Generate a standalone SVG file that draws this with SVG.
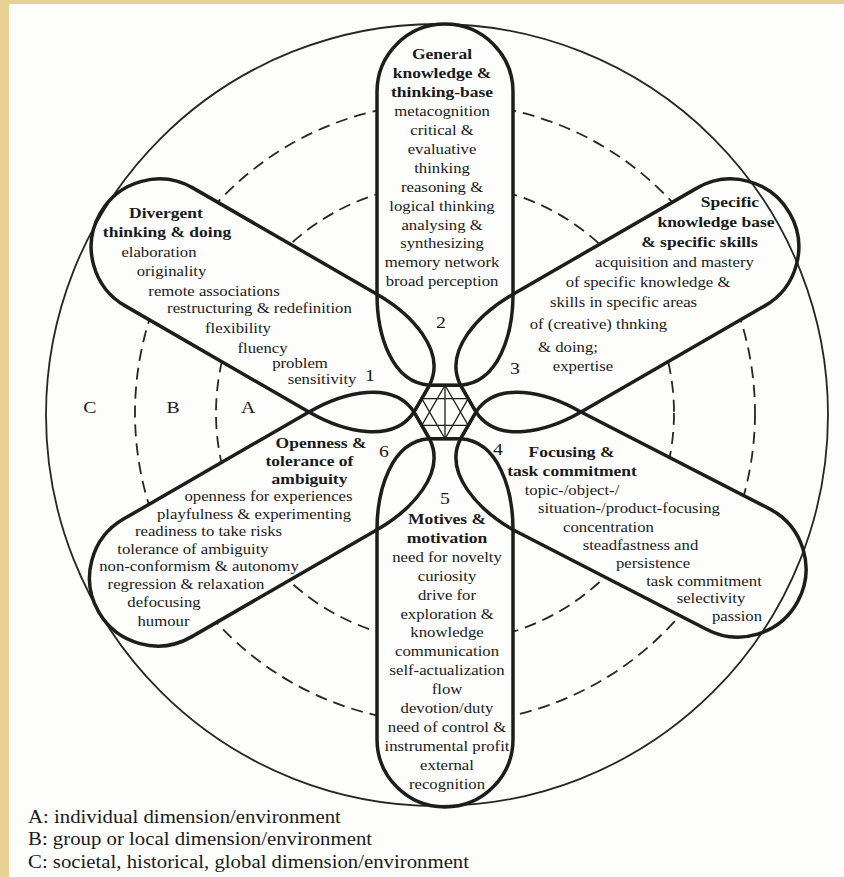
<svg xmlns="http://www.w3.org/2000/svg" width="844" height="877" viewBox="0 0 844 877">
<style>
.pg{fill:#fdfdfc}
.pf{fill:#fdfdfc;stroke:none}
.ps{fill:none;stroke:#1d1d1d;stroke-width:3.5;stroke-linejoin:round}
.ring{fill:none;stroke:#262626;stroke-width:1.8}
.dash{fill:none;stroke:#262626;stroke-width:1.8;stroke-dasharray:12 7}
.hex{fill:none;stroke:#1d1d1d;stroke-width:3}
.star{fill:none;stroke:#1d1d1d;stroke-width:1.3}
text{font-family:"Liberation Serif","Times New Roman",serif;fill:#1a1a1a}
.t{font-size:14.8px;text-anchor:middle}
.b{font-size:15.5px;font-weight:bold;text-anchor:middle}
.n{font-size:17.5px;text-anchor:middle}
.lg{font-size:18.4px}
</style>
<defs>
<path id="p2" d="M377 294.22 L377 92 A68 68 0 0 1 513 92 L513 294.22 C513 334.22 498.71 382.97 460.5 385.15 L429.5 385.15 C391.29 382.97 377 334.22 377 294.22 Z"/>
<path id="p3" d="M513 294.22 L696.79 188.11 A68 68 0 0 1 764.79 305.89 L581 412 C546.36 432 497 444 476 412 L460.5 385.15 C443.29 350.97 478.36 314.22 513 294.22 Z"/>
<path id="p4" d="M581 412 L770.14 509.07 A68 68 0 0 1 705.86 628.93 L513 529.78 C478.36 509.78 443.29 473.03 460.5 438.85 L476 412 C497 380 546.36 392 581 412 Z"/>
<path id="p5" d="M513 529.78 L513 739 A68 68 0 0 1 377 739 L377 529.78 C377 489.78 391.29 441.03 429.5 438.85 L460.5 438.85 C498.71 441.03 513 489.78 513 529.78 Z"/>
<path id="p6" d="M377 529.78 L191.48 636.89 A68 68 0 0 1 123.48 519.11 L309 412 C343.64 392 393 380 414 412 L429.5 438.85 C446.71 473.03 411.64 509.78 377 529.78 Z"/>
<path id="p1" d="M309 412 L125.21 305.89 A68 68 0 0 1 193.21 188.11 L377 294.22 C411.64 314.22 446.71 350.97 429.5 385.15 L414 412 C393 444 343.64 432 309 412 Z"/>
</defs>
<rect x="0" y="0" width="844" height="877" fill="#e9d195"/>
<rect class="pg" x="9" y="4" width="835" height="873"/>
<g id="rings">
<circle class="dash" cx="445" cy="413" r="310"/>
<circle class="dash" cx="445" cy="413" r="229"/>
</g>
<g id="petal-fills">
<use href="#p1" class="pf"/><use href="#p2" class="pf"/><use href="#p3" class="pf"/>
<use href="#p4" class="pf"/><use href="#p5" class="pf"/><use href="#p6" class="pf"/>
</g>
<circle id="outer-ring" class="ring" cx="437" cy="415" r="391"/>
<g id="zone-labels">
<g transform="scale(1.13 1)">
<text class="n" x="79.6" y="413">C</text>
<text class="n" x="153.1" y="413">B</text>
<text class="n" x="219.5" y="413">A</text>
</g>
</g>
<g id="connectors">
<polygon class="hex" points="476,412 460.5,385.15 429.5,385.15 414,412 429.5,438.85 460.5,438.85"/>
<g class="star">
<polygon points="445,385.2 421.8,425.4 468.2,425.4"/>
<polygon points="421.8,398.6 468.2,398.6 445,438.8"/>
<line x1="445" y1="385.2" x2="445" y2="438.8"/>
</g>
</g>
<g id="node1">
<use href="#p1" class="ps"/>
<g transform="scale(1.13 1)">
<text class="b" x="146.9" y="218">Divergent</text>
<text class="b" x="147.8" y="237">thinking &amp; doing</text>
<text class="t" x="140.7" y="257">elaboration</text>
<text class="t" x="151.8" y="276">originality</text>
<text class="t" x="189.4" y="296">remote associations</text>
<text class="t" x="229.6" y="313">restructuring &amp; redefinition</text>
<text class="t" x="210.6" y="333">flexibility</text>
<text class="t" x="232.3" y="353">fluency</text>
<text class="t" x="265.5" y="368">problem</text>
<text class="t" x="285" y="384">sensitivity</text>
<text class="n" x="327.4" y="381">1</text>
</g>
</g>
<g id="node2">
<use href="#p2" class="ps"/>
<g transform="scale(1.13 1)">
<text class="b" x="391.2" y="59">General</text>
<text class="b" x="391.2" y="78">knowledge &amp;</text>
<text class="b" x="391.2" y="97">thinking-base</text>
<text class="t" x="391.2" y="116">metacognition</text>
<text class="t" x="391.2" y="135">critical &amp;</text>
<text class="t" x="391.2" y="154">evaluative</text>
<text class="t" x="391.2" y="173">thinking</text>
<text class="t" x="391.2" y="192">reasoning &amp;</text>
<text class="t" x="391.2" y="211">logical thinking</text>
<text class="t" x="391.2" y="230">analysing &amp;</text>
<text class="t" x="391.2" y="248">synthesizing</text>
<text class="t" x="391.2" y="267">memory network</text>
<text class="t" x="391.2" y="286">broad perception</text>
<text class="n" x="390.3" y="328">2</text>
</g>
</g>
<g id="node3">
<use href="#p3" class="ps"/>
<g transform="scale(1.13 1)">
<text class="b" x="646" y="207">Specific</text>
<text class="b" x="633.6" y="227">knowledge base</text>
<text class="b" x="619" y="247">&amp; specific skills</text>
<text class="t" x="596.9" y="267">acquisition and mastery</text>
<text class="t" x="573.5" y="287">of specific knowledge &amp;</text>
<text class="t" x="551.8" y="307">skills in specific areas</text>
<text class="t" x="529.6" y="329">of (creative) thnking</text>
<text class="t" x="502.7" y="352">&amp; doing;</text>
<text class="t" x="515.9" y="371">expertise</text>
<text class="n" x="455.8" y="374">3</text>
</g>
</g>
<g id="node4">
<use href="#p4" class="ps"/>
<g transform="scale(1.13 1)">
<text class="b" x="505.8" y="457">Focusing &amp;</text>
<text class="b" x="506.2" y="476">task commitment</text>
<text class="t" x="506.2" y="495">topic-/object-/</text>
<text class="t" x="556.6" y="513">situation-/product-focusing</text>
<text class="t" x="538.5" y="532">concentration</text>
<text class="t" x="566.8" y="550">steadfastness and</text>
<text class="t" x="577.9" y="568">persistence</text>
<text class="t" x="623" y="586">task commitment</text>
<text class="t" x="629.2" y="603">selectivity</text>
<text class="t" x="652.2" y="621">passion</text>
<text class="n" x="440.7" y="455">4</text>
</g>
</g>
<g id="node5">
<use href="#p5" class="ps"/>
<g transform="scale(1.13 1)">
<text class="n" x="393.8" y="504">5</text>
<text class="b" x="395.6" y="524">Motives &amp;</text>
<text class="b" x="395.6" y="543">motivation</text>
<text class="t" x="395.6" y="562">need for novelty</text>
<text class="t" x="395.6" y="581">curiosity</text>
<text class="t" x="395.6" y="600">drive for</text>
<text class="t" x="395.6" y="619">exploration &amp;</text>
<text class="t" x="395.6" y="637">knowledge</text>
<text class="t" x="395.6" y="656">communication</text>
<text class="t" x="395.6" y="675">self-actualization</text>
<text class="t" x="395.6" y="694">flow</text>
<text class="t" x="395.6" y="713">devotion/duty</text>
<text class="t" x="395.6" y="732">need of control &amp;</text>
<text class="t" x="395.6" y="751">instrumental profit</text>
<text class="t" x="395.6" y="770">external</text>
<text class="t" x="395.6" y="789">recognition</text>
</g>
</g>
<g id="node6">
<use href="#p6" class="ps"/>
<g transform="scale(1.13 1)">
<text class="n" x="339.8" y="457">6</text>
<text class="b" x="284.1" y="448">Openness &amp;</text>
<text class="b" x="273.9" y="466">tolerance of</text>
<text class="b" x="273.9" y="484">ambiguity</text>
<text class="t" x="237.6" y="501">openness for experiences</text>
<text class="t" x="224.8" y="519">playfulness &amp; experimenting</text>
<text class="t" x="184.5" y="536">readiness to take risks</text>
<text class="t" x="170.8" y="554">tolerance of ambiguity</text>
<text class="t" x="176.1" y="571">non-conformism &amp; autonomy</text>
<text class="t" x="164.6" y="589">regression &amp; relaxation</text>
<text class="t" x="145.1" y="607">defocusing</text>
<text class="t" x="144.7" y="626">humour</text>
</g>
</g>
<g id="legend">
<g transform="scale(1.13 1)">
<text class="lg" x="24.8" y="823">A: individual dimension/environment</text>
<text class="lg" x="24.8" y="845">B: group or local dimension/environment</text>
<text class="lg" x="24.8" y="868">C: societal, historical, global dimension/environment</text>
</g>
</g>
</svg>
